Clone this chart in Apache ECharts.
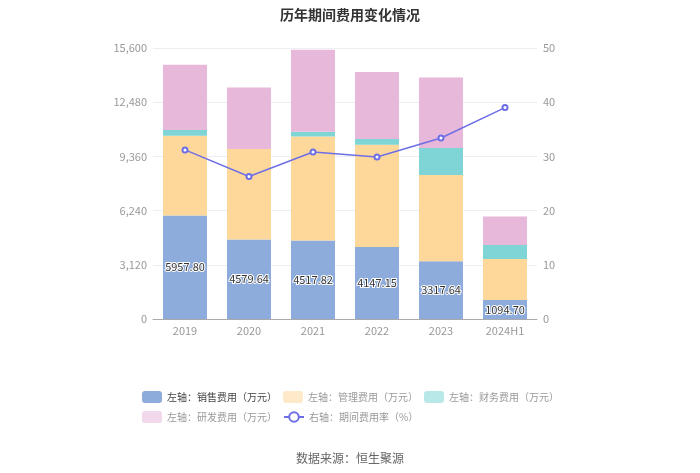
<!DOCTYPE html>
<html><head><meta charset="utf-8">
<script src="https://cdn.jsdelivr.net/npm/echarts@6/dist/echarts.min.js"></script>
<style>html,body{margin:0;padding:0;background:#fff}#c{width:700px;height:473px}</style>
</head><body><div id="c"></div>
<script>
const categories = ['2019','2020','2021','2022','2023','2024H1'];
const salesExp = [5957.80, 4579.64, 4517.82, 4147.15, 3317.64, 1094.70];
const mgmtExp = [4594, 5206, 5993, 5887, 4971, 2359];
const finExp = [328, 0, 271, 328, 1555, 806];
const rdExp = [3759, 3546, 4720, 3857, 4064, 1646];
const rateExp = [31.2, 26.3, 30.8, 29.9, 33.4, 39.0];
const leftTicks = [0, 3120, 6240, 9360, 12480, 15600];
const rightTicks = [0, 10, 20, 30, 40, 50];

const chart = echarts.init(document.getElementById('c'), null, {renderer:'canvas'});
const font = '"Noto Sans CJK SC", "Noto Sans", sans-serif';
const barW = 44;
const names = ['左轴：销售费用（万元）','左轴：管理费用（万元）','左轴：财务费用（万元）','左轴：研发费用（万元）','右轴：期间费用率（%）'];
const legendBase = {
  left: 137, itemWidth: 20, itemHeight: 12, itemGap: 6, orient: 'horizontal',
  textStyle: {color: '#999', fontSize: 10, fontFamily: font}
};
chart.setOption({
  animation: false,
  textStyle: {fontFamily: font},
  title: [{text: '历年期间费用变化情况', left: 'center', top: 3,
    textStyle: {fontSize: 14, fontWeight: 'bold', color: '#333', fontFamily: font}},
    {text: '数据来源：恒生聚源', left: 'center', top: 447,
    textStyle: {fontSize: 12, fontWeight: 'normal', color: '#666', fontFamily: font}}],
  legend: [
    Object.assign({}, legendBase, {top: 386, data: [
      {name: names[0], icon: 'roundRect', textStyle: {color: '#444'}},
      {name: names[1], icon: 'roundRect', itemStyle: {opacity: 0.55}},
      {name: names[2], icon: 'roundRect', itemStyle: {opacity: 0.55}}
    ]}),
    Object.assign({}, legendBase, {top: 406, data: [
      {name: names[3], icon: 'roundRect', itemStyle: {opacity: 0.55}},
      {name: names[4]}
    ]})
  ],
  grid: {left: 153, right: 163, top: 48, bottom: 154},
  xAxis: {
    type: 'category', data: categories,
    axisLine: {lineStyle: {color: '#aaa'}},
    axisTick: {alignWithLabel: true, lineStyle: {color: '#aaa'}},
    axisLabel: {color: '#999', fontSize: 11, margin: 6}
  },
  yAxis: [{
    type: 'value', min: 0, max: leftTicks[leftTicks.length-1], interval: leftTicks[1]-leftTicks[0],
    axisLine: {show: false}, axisTick: {show: false},
    axisLabel: {color: '#999', fontSize: 11, margin: 6},
    splitLine: {lineStyle: {color: '#eceef4'}}
  }, {
    type: 'value', min: 0, max: rightTicks[rightTicks.length-1], interval: rightTicks[1]-rightTicks[0],
    axisLine: {show: false}, axisTick: {show: false},
    axisLabel: {color: '#999', fontSize: 11, margin: 6},
    splitLine: {show: false}
  }],
  series: [
    {name: names[0], type: 'bar', stack: 'a', barWidth: barW, data: salesExp,
      itemStyle: {color: '#8eacdb'},
      label: {show: true, position: 'inside', color: '#333', fontSize: 11,
        textBorderColor: '#fff', textBorderWidth: 2,
        formatter: p => p.value.toFixed(2)}},
    {name: names[1], type: 'bar', stack: 'a', barWidth: barW, data: mgmtExp,
      itemStyle: {color: '#fed89b'}},
    {name: names[2], type: 'bar', stack: 'a', barWidth: barW, data: finExp,
      itemStyle: {color: '#7fd5d5'}},
    {name: names[3], type: 'bar', stack: 'a', barWidth: barW, data: rdExp,
      itemStyle: {color: '#e7b8da'}},
    {name: names[4], type: 'line', yAxisIndex: 1, data: rateExp,
      symbol: 'emptyCircle', symbolSize: 5,
      lineStyle: {color: '#6e6fe6', width: 1.5},
      itemStyle: {color: '#6e6fe6'}}
  ]
});
</script></body></html>
